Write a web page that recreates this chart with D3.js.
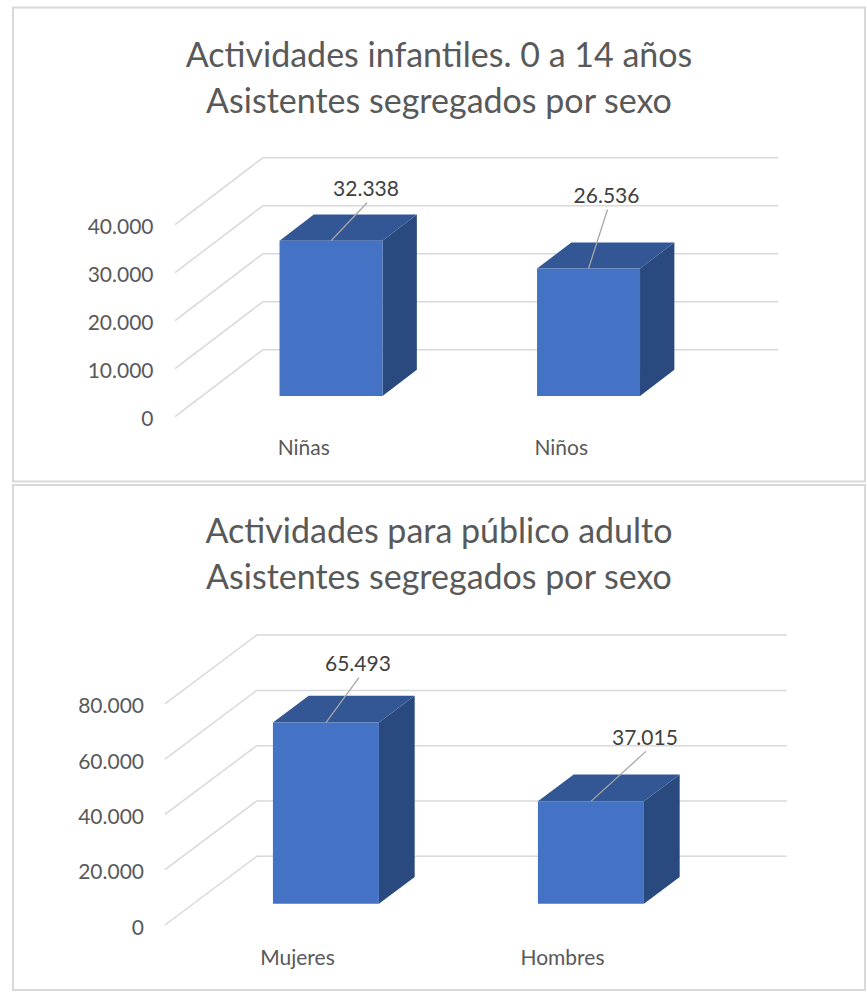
<!DOCTYPE html>
<html>
<head>
<meta charset="utf-8">
<script src="https://cdn.jsdelivr.net/npm/d3@7"></script>
<style>
  body { margin: 0; background: #fff; }
  svg text { font-family: Lato, "Open Sans", sans-serif; }
  .grid { stroke: #d9d9d9; stroke-width: 1.5; fill: none; }
  .frame { fill: #fff; stroke: #d9d9d9; stroke-width: 2; }
  .title { fill: #595959; font-size: 34px; }
  .tick { fill: #595959; font-size: 21px; }
  .cat { fill: #595959; font-size: 21px; }
  .val { fill: #404040; font-size: 21px; }
  .leader { stroke: #a6a6a6; stroke-width: 1.3; }
</style>
</head>
<body>
<div id="output"></div>
<script>
// data
const kidsTitle = ['Actividades infantiles. 0 a 14 años', 'Asistentes segregados por sexo'];
const kidsCategories = ['Niñas', 'Niños'];
const kidsValues = [32338, 26536];
const kidsTicks = [0, 10000, 20000, 30000, 40000];

const adultTitle = ['Actividades para público adulto', 'Asistentes segregados por sexo'];
const adultCategories = ['Mujeres', 'Hombres'];
const adultValues = [65493, 37015];
const adultTicks = [0, 20000, 40000, 60000, 80000];

// es-ES number format: 32.338
const fmt = d3.formatLocale({ decimal: ',', thousands: '.', grouping: [3], currency: ['', ' €'] }).format(',d');

const W = 867, H = 993;
const svg = d3.select('#output').append('svg')
  .attr('width', W)
  .attr('height', H);

const colors = { front: '#4472c4', top: '#335694', side: '#2a4a7f' };

function drawChart(opt) {
  const g = svg.append('g');

  g.append('rect')
    .attr('class', 'frame')
    .attr('x', opt.frame[0])
    .attr('y', opt.frame[1])
    .attr('width', opt.frame[2])
    .attr('height', opt.frame[3]);

  const cx = opt.frame[0] + opt.frame[2] / 2;
  g.selectAll('.title')
    .data(opt.title)
    .join('text')
    .attr('class', 'title')
    .attr('x', cx)
    .attr('y', (d, i) => opt.titleY + i * 46)
    .attr('text-anchor', 'middle')
    .text(d => d);

  // front plane scales, depth is added by (dx, dy) * z
  const y = d3.scaleLinear()
    .domain([0, d3.max(opt.ticks)])
    .range([opt.y0, opt.yTop]);
  const x = d3.scaleBand()
    .domain(opt.categories)
    .range([opt.x0, opt.x1])
    .paddingInner(0.6)
    .paddingOuter(0.3);
  const [dx, dy] = opt.depth;
  const P = (px, py, z) => [px + z * dx, py + z * dy];

  // gridlines: left wall diagonal + back wall horizontal
  g.selectAll('.grid')
    .data(opt.ticks)
    .join('path')
    .attr('class', 'grid')
    .attr('d', v => d3.line()([
      [opt.x0, y(v)],
      P(opt.x0, y(v), 1),
      P(opt.x1, y(v), 1)
    ]));

  g.selectAll('.tick')
    .data(opt.ticks)
    .join('text')
    .attr('class', 'tick')
    .attr('x', opt.tickX)
    .attr('y', v => y(v) + 1)
    .attr('text-anchor', 'end')
    .attr('dominant-baseline', 'central')
    .text(v => fmt(v));

  const zf = 0.31, zb = 0.70;
  const bars = opt.categories.map((c, i) => ({ c, v: opt.values[i], i }));

  const bar = g.selectAll('.bar')
    .data(bars)
    .join('g')
    .attr('class', 'bar');

  const poly = pts => d3.line()(pts) + 'Z';

  // side face
  bar.append('path')
    .attr('fill', colors.side)
    .attr('d', d => {
      const xr = x(d.c) + x.bandwidth();
      return poly([P(xr, y(d.v), zf), P(xr, y(d.v), zb), P(xr, y(0), zb), P(xr, y(0), zf)]);
    });
  // top face
  bar.append('path')
    .attr('fill', colors.top)
    .attr('d', d => {
      const xl = x(d.c), xr = xl + x.bandwidth();
      return poly([P(xl, y(d.v), zf), P(xr, y(d.v), zf), P(xr, y(d.v), zb), P(xl, y(d.v), zb)]);
    });
  // front face
  bar.append('path')
    .attr('fill', colors.front)
    .attr('d', d => {
      const xl = x(d.c), xr = xl + x.bandwidth();
      return poly([P(xl, y(d.v), zf), P(xr, y(d.v), zf), P(xr, y(0), zf), P(xl, y(0), zf)]);
    });

  // data labels with leader lines
  bar.each(function(d) {
    const sel = d3.select(this);
    const [ax, ay] = P(x(d.c) + x.bandwidth() / 2, y(d.v), zf);
    const [nx, ny] = opt.labelNudge[d.i];
    sel.append('line')
      .attr('class', 'leader')
      .attr('x1', ax).attr('y1', ay)
      .attr('x2', ax + nx + 1).attr('y2', ay + ny + 15);
    sel.append('text')
      .attr('class', 'val')
      .attr('x', ax + nx)
      .attr('y', ay + ny)
      .attr('text-anchor', 'middle')
      .attr('dominant-baseline', 'central')
      .text(fmt(d.v));
  });

  g.selectAll('.cat')
    .data(opt.categories)
    .join('text')
    .attr('class', 'cat')
    .attr('x', c => x(c) + x.bandwidth() / 2)
    .attr('y', opt.catY)
    .attr('text-anchor', 'middle')
    .attr('dominant-baseline', 'central')
    .text(c => c);
}

drawChart({
  title: kidsTitle, categories: kidsCategories, values: kidsValues, ticks: kidsTicks,
  frame: [13, 7.5, 852, 474],
  titleY: 67,
  x0: 175, x1: 690, y0: 416.7, yTop: 224.7,
  depth: [88, -67],
  tickX: 153.5,
  catY: 446,
  labelNudge: [[35, -53], [18, -74]]
});

drawChart({
  title: adultTitle, categories: adultCategories, values: adultValues, ticks: adultTicks,
  frame: [13, 485, 852, 505],
  titleY: 543,
  x0: 165, x1: 695, y0: 925, yTop: 703.8,
  depth: [91.7, -68.7],
  tickX: 144,
  catY: 956,
  labelNudge: [[32, -60], [54, -65]]
});
</script>
</body>
</html>
